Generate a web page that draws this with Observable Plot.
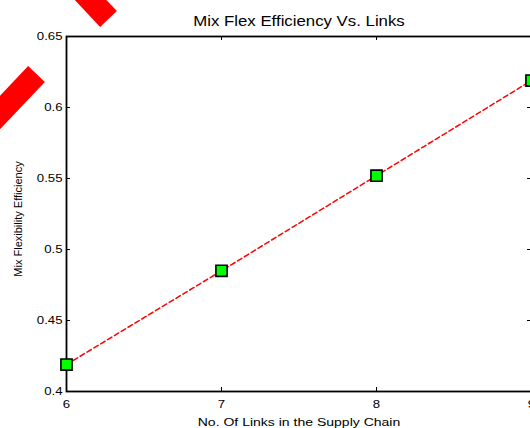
<!DOCTYPE html>
<html>
<head>
<meta charset="utf-8">
<script src="https://cdn.jsdelivr.net/npm/d3@7"></script>
<script src="https://cdn.jsdelivr.net/npm/@observablehq/plot@0.6"></script>
<style>
  html, body { margin: 0; padding: 0; background: #fff; overflow: hidden; }
  #chart { position: relative; width: 530px; height: 428px; overflow: hidden; }
  #chart > svg { max-width: none !important; }
  #chart svg.stripes { position: absolute; left: 0; top: 0; pointer-events: none; }
</style>
</head>
<body>
<div id="chart"></div>
<script>
// Links in the supply chain vs. mix flexibility efficiency
const links = [6, 7, 8, 9];
const efficiency = [0.419, 0.485, 0.552, 0.619];

const xTicks = [6, 7, 8, 9];
const xTickLabels = ["6", "7", "8", "9"];
const yTicks = [0.4, 0.45, 0.5, 0.55, 0.6, 0.65];
const yTickLabels = ["0.4", "0.45", "0.5", "0.55", "0.6", "0.65"];

const title = "Mix Flex Efficiency Vs. Links";
const xLabel = "No. Of Links in the Supply Chain";
const yLabel = "Mix Flexibility Efficiency";

const points = links.map((x, i) => ({x, y: efficiency[i]}));

const W = 532, H = 428;
const M = {top: 36, right: 1, bottom: 37, left: 66};
const innerW = W - M.left - M.right;
const innerH = H - M.top - M.bottom;
const tick = 4;
const font = "Liberation Sans, Arial, Helvetica, sans-serif";

const chart = Plot.plot({
  width: W,
  height: H,
  marginTop: M.top,
  marginRight: M.right,
  marginBottom: M.bottom,
  marginLeft: M.left,
  style: {fontFamily: font, color: "#000", background: "#fff", overflow: "hidden", maxWidth: "none"},
  x: {domain: [6, 9], axis: null},
  y: {domain: [0.4, 0.65], axis: null},
  marks: [
    // tick labels
    Plot.axisX(xTicks, {anchor: "bottom", tickSize: 0, tickPadding: 8, fontSize: 11.5,
      tickFormat: (d, i) => xTickLabels[i], label: null}),
    Plot.axisY(yTicks, {anchor: "left", tickSize: 0, tickPadding: 4, fontSize: 11.5,
      tickFormat: (d, i) => yTickLabels[i], label: null}),
    // inward ticks on all four sides
    Plot.tickX(xTicks, {x: d => d, insetTop: innerH - tick, stroke: "#000"}),
    Plot.tickX(xTicks, {x: d => d, insetBottom: innerH - tick, stroke: "#000"}),
    Plot.tickY(yTicks, {y: d => d, insetRight: innerW - tick, stroke: "#000"}),
    Plot.tickY(yTicks, {y: d => d, insetLeft: innerW - tick, stroke: "#000"}),
    Plot.frame({stroke: "#000", strokeWidth: 1.8}),
    // series
    Plot.line(points, {x: "x", y: "y", stroke: "#ff0000", strokeWidth: 1.5, strokeDasharray: "5,3"}),
    Plot.dot(points, {x: "x", y: "y", symbol: "square", r: 6.3, fill: "#00ff00", stroke: "#000", strokeWidth: 1.6}),
    // titles
    Plot.text([title], {frameAnchor: "top", lineAnchor: "bottom", dy: -11, fontSize: 14, fill: "#000"}),
    Plot.text([xLabel], {frameAnchor: "bottom", lineAnchor: "bottom", dy: 34.5, fontSize: 11.5, fill: "#000"}),
    Plot.text([yLabel], {frameAnchor: "left", textAnchor: "middle", lineAnchor: "middle", rotate: -90,
      dx: -48.5, dy: 5, fontSize: 11, fill: "#000"})
  ]
});

const host = document.getElementById("chart");
host.appendChild(chart);

// the horizontal lettering is set a little wide: stretch each label about its anchor
const stretch = new Map([[title, 1.2], [xLabel, 1.22]]);
xTickLabels.forEach(s => stretch.set(s, 1.15));
yTickLabels.forEach(s => stretch.set(s, 1.15));
chart.querySelectorAll("text").forEach(t => {
  const k = stretch.get(t.textContent.trim());
  if (!k) return;
  const tr = t.getAttribute("transform") || "";
  t.setAttribute("transform", `${tr} scale(${k},1)`.trim());
});

// red diagonal strokes in the upper-left corner
const ns = "http://www.w3.org/2000/svg";
const overlay = document.createElementNS(ns, "svg");
overlay.setAttribute("class", "stripes");
overlay.setAttribute("width", 530);
overlay.setAttribute("height", 428);
[[36.5, 74, -24, 138], [108.5, 19, 68, -24]].forEach(([x1, y1, x2, y2]) => {
  const l = document.createElementNS(ns, "line");
  l.setAttribute("x1", x1); l.setAttribute("y1", y1);
  l.setAttribute("x2", x2); l.setAttribute("y2", y2);
  l.setAttribute("stroke", "#ff0000");
  l.setAttribute("stroke-width", 23);
  overlay.appendChild(l);
});
host.appendChild(overlay);
</script>
</body>
</html>
